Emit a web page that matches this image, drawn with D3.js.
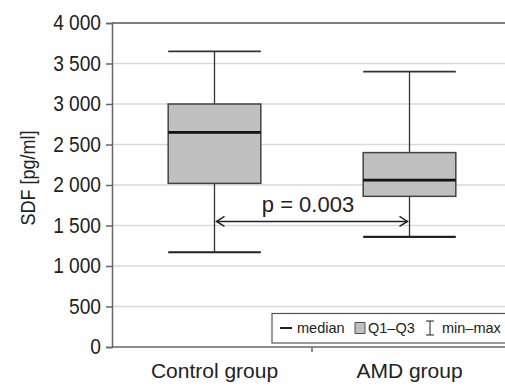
<!DOCTYPE html>
<html><head><meta charset="utf-8">
<script src="https://cdn.jsdelivr.net/npm/d3@7"></script>
<style>
html,body{margin:0;padding:0;background:#fff;}
svg{display:block;font-family:"Liberation Sans",Arial,sans-serif;}
</style></head>
<body>
<svg id="chart" width="505" height="387"></svg>
<script>
const categories = ["Control group", "AMD group"];
const minValues = [1170, 1360];
const q1Values = [2020, 1860];
const medianValues = [2650, 2060];
const q3Values = [3000, 2400];
const maxValues = [3650, 3400];
const yTicks = [0, 500, 1000, 1500, 2000, 2500, 3000, 3500, 4000];
const yTitle = "SDF [pg/ml]";
const pLabel = "p = 0.003";
const pArrowValue = 1550;
const legendItems = ["median", "Q1–Q3", "min–max"];

const svg = d3.select("#chart");
const W = 505, H = 387;
const y = d3.scaleLinear().domain([0, 4000]).range([347, 23]);
const x = d3.scaleBand().domain(categories).range([117, 507]).padding(0);
const axisX = 112;
const boxW = x.bandwidth() * 0.475;
const cx = c => x(c) + x.bandwidth() / 2;

// gridlines
svg.append("g").selectAll("line").data(yTicks.filter(d => d > 0 && d < 4000)).join("line")
  .attr("x1", axisX).attr("x2", W).attr("y1", d => y(d)).attr("y2", d => y(d))
  .attr("stroke", "#d9d9d9").attr("stroke-width", 1.5);

// top border
svg.append("line").attr("x1", axisX).attr("x2", W).attr("y1", y(4000)).attr("y2", y(4000))
  .attr("stroke", "#555").attr("stroke-width", 1.5);

// y axis
const fmt = d => d3.format(",")(d).replace(/,/g, " ");
const yAxis = d3.axisLeft(y).tickValues(yTicks).tickFormat(fmt).tickSize(6).tickPadding(5);
const gy = svg.append("g").attr("transform", `translate(${axisX},0)`).call(yAxis);
gy.select(".domain").attr("stroke", "#666").attr("stroke-width", 1.5);
gy.selectAll(".tick line").attr("stroke", "#666").attr("stroke-width", 1.5);
gy.selectAll(".tick text").attr("font-size", 21.5).attr("fill", "#222")
  .attr("font-family", "Liberation Sans, Arial, sans-serif")
  .attr("x", -11 / 0.89)
  .attr("transform", "scale(0.89,1)");

// x axis line
svg.append("line").attr("x1", axisX).attr("x2", W).attr("y1", y(0)).attr("y2", y(0))
  .attr("stroke", "#666").attr("stroke-width", 1.5);
// category boundary tick
svg.append("line").attr("x1", x(categories[1])).attr("x2", x(categories[1]))
  .attr("y1", y(0)).attr("y2", y(0) + 5).attr("stroke", "#666").attr("stroke-width", 1.5);

// x labels
svg.append("g").selectAll("text").data(categories).join("text")
  .attr("x", d => cx(d)).attr("y", 378).attr("text-anchor", "middle")
  .attr("font-size", 21).attr("fill", "#222").text(d => d);

// y title
svg.append("text").attr("transform", "translate(35,178) rotate(-90) scale(0.88,1)")
  .attr("text-anchor", "middle").attr("font-size", 20.5).attr("fill", "#222").text(yTitle);

// boxes
const data = categories.map((c, i) => ({c, min: minValues[i], q1: q1Values[i], med: medianValues[i], q3: q3Values[i], max: maxValues[i]}));
const g = svg.append("g");
data.forEach(d => {
  const c = cx(d.c);
  g.append("line").attr("x1", c).attr("x2", c).attr("y1", y(d.max)).attr("y2", y(d.q3))
    .attr("stroke", "#333").attr("stroke-width", 1.3);
  g.append("line").attr("x1", c).attr("x2", c).attr("y1", y(d.q1)).attr("y2", y(d.min))
    .attr("stroke", "#333").attr("stroke-width", 1.3);
  g.append("line").attr("x1", c - boxW / 2).attr("x2", c + boxW / 2).attr("y1", y(d.max)).attr("y2", y(d.max))
    .attr("stroke", "#333").attr("stroke-width", 1.8);
  g.append("line").attr("x1", c - boxW / 2).attr("x2", c + boxW / 2).attr("y1", y(d.min)).attr("y2", y(d.min))
    .attr("stroke", "#222").attr("stroke-width", 2.2);
  g.append("rect").attr("x", c - boxW / 2).attr("width", boxW)
    .attr("y", y(d.q3)).attr("height", y(d.q1) - y(d.q3))
    .attr("fill", "#c0c0c0").attr("stroke", "#444").attr("stroke-width", 1.5);
  g.append("line").attr("x1", c - boxW / 2).attr("x2", c + boxW / 2).attr("y1", y(d.med)).attr("y2", y(d.med))
    .attr("stroke", "#111").attr("stroke-width", 2.8);
});

// p-value arrow
const ax1 = cx(categories[0]) + 2, ax2 = cx(categories[1]) - 2, ay = y(pArrowValue);
const ag = svg.append("g").attr("stroke", "#222").attr("stroke-width", 1.5).attr("fill", "none");
ag.append("line").attr("x1", ax1).attr("x2", ax2).attr("y1", ay).attr("y2", ay);
ag.append("path").attr("d", `M${ax1 + 8},${ay - 5}L${ax1},${ay}L${ax1 + 8},${ay + 5}`);
ag.append("path").attr("d", `M${ax2 - 8},${ay - 5}L${ax2},${ay}L${ax2 - 8},${ay + 5}`);
svg.append("text").attr("x", (ax1 + ax2) / 2 - 4).attr("y", 212).attr("text-anchor", "middle")
  .attr("font-size", 22).attr("fill", "#222").text(pLabel);

// legend
const lg = svg.append("g");
lg.append("rect").attr("x", 272).attr("y", 313.5).attr("width", 240).attr("height", 29.5)
  .attr("fill", "#fff").attr("stroke", "#555").attr("stroke-width", 1.2);
const ly = 328;
lg.append("line").attr("x1", 280).attr("x2", 292).attr("y1", ly).attr("y2", ly).attr("stroke", "#222").attr("stroke-width", 2);
lg.append("text").attr("x", 297).attr("y", ly + 5).attr("font-size", 14.5).attr("fill", "#222").text(legendItems[0]);
lg.append("rect").attr("x", 355).attr("y", ly - 5.5).attr("width", 10).attr("height", 11)
  .attr("fill", "#c0c0c0").attr("stroke", "#555").attr("stroke-width", 1);
lg.append("text").attr("x", 368).attr("y", ly + 5).attr("font-size", 14.5).attr("fill", "#222").text(legendItems[1]);
const ib = lg.append("g").attr("stroke", "#333").attr("stroke-width", 1.1);
ib.append("line").attr("x1", 430).attr("x2", 430).attr("y1", ly - 7).attr("y2", ly + 7);
ib.append("line").attr("x1", 426).attr("x2", 434).attr("y1", ly - 7).attr("y2", ly - 7);
ib.append("line").attr("x1", 426).attr("x2", 434).attr("y1", ly + 7).attr("y2", ly + 7);
lg.append("text").attr("x", 442).attr("y", ly + 5).attr("font-size", 14.5).attr("fill", "#222").text(legendItems[2]);
</script>
</body></html>
